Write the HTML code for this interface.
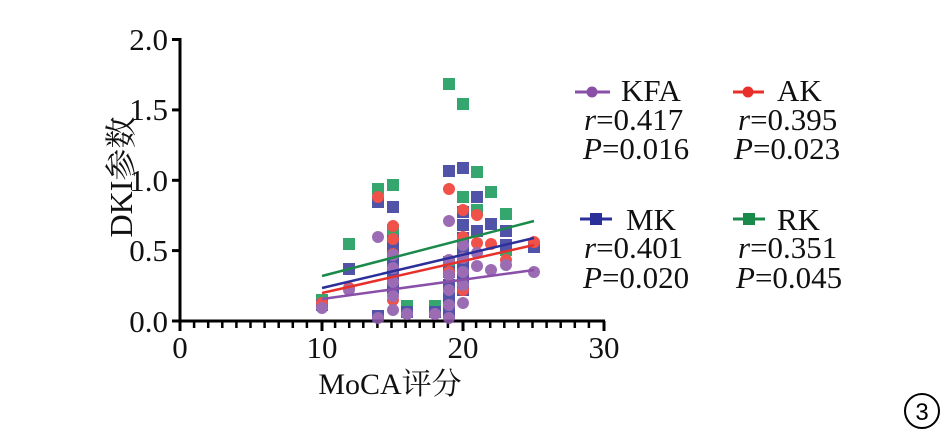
<!DOCTYPE html>
<html><head><meta charset="utf-8"><style>body{margin:0;background:#fff}svg{display:block}</style></head><body>
<svg width="947" height="436" xmlns="http://www.w3.org/2000/svg" font-family="'Liberation Serif','Noto Serif CJK SC',serif">
<g stroke="#000" stroke-width="3" fill="none">
<line x1="180" y1="38" x2="180" y2="331"/>
<line x1="178" y1="321" x2="605" y2="321"/>
<line x1="172" y1="39.5" x2="180" y2="39.5"/>
<line x1="172" y1="109.9" x2="180" y2="109.9"/>
<line x1="172" y1="180.3" x2="180" y2="180.3"/>
<line x1="172" y1="250.6" x2="180" y2="250.6"/>
<line x1="172" y1="321" x2="180" y2="321"/>
<line x1="322" y1="321" x2="322" y2="331"/>
<line x1="463" y1="321" x2="463" y2="331"/>
<line x1="604" y1="321" x2="604" y2="331"/>
</g>
<g stroke="#000" stroke-width="2.5">
<line x1="194.1" y1="321" x2="194.1" y2="328"/><line x1="208.2" y1="321" x2="208.2" y2="328"/><line x1="222.3" y1="321" x2="222.3" y2="328"/><line x1="236.4" y1="321" x2="236.4" y2="328"/><line x1="250.5" y1="321" x2="250.5" y2="328"/><line x1="264.6" y1="321" x2="264.6" y2="328"/><line x1="278.7" y1="321" x2="278.7" y2="328"/><line x1="292.8" y1="321" x2="292.8" y2="328"/><line x1="306.9" y1="321" x2="306.9" y2="328"/>
<line x1="335.1" y1="321" x2="335.1" y2="328"/><line x1="349.2" y1="321" x2="349.2" y2="328"/><line x1="363.3" y1="321" x2="363.3" y2="328"/><line x1="377.4" y1="321" x2="377.4" y2="328"/><line x1="391.5" y1="321" x2="391.5" y2="328"/><line x1="405.6" y1="321" x2="405.6" y2="328"/><line x1="419.7" y1="321" x2="419.7" y2="328"/><line x1="433.8" y1="321" x2="433.8" y2="328"/><line x1="447.9" y1="321" x2="447.9" y2="328"/>
<line x1="476.1" y1="321" x2="476.1" y2="328"/><line x1="490.2" y1="321" x2="490.2" y2="328"/><line x1="504.3" y1="321" x2="504.3" y2="328"/><line x1="518.4" y1="321" x2="518.4" y2="328"/><line x1="532.5" y1="321" x2="532.5" y2="328"/><line x1="546.6" y1="321" x2="546.6" y2="328"/><line x1="560.7" y1="321" x2="560.7" y2="328"/><line x1="574.8" y1="321" x2="574.8" y2="328"/><line x1="588.9" y1="321" x2="588.9" y2="328"/>
</g>
<g font-size="31" fill="#111" text-anchor="end">
<text x="168" y="50">2.0</text><text x="168" y="120">1.5</text><text x="168" y="191">1.0</text><text x="168" y="261">0.5</text><text x="168" y="332">0.0</text>
</g>
<g font-size="31" fill="#111" text-anchor="middle">
<text x="180" y="358">0</text><text x="322" y="358">10</text><text x="463" y="358">20</text><text x="604" y="358">30</text>
<text x="390" y="394" font-size="30">MoCA评分</text>
<text transform="translate(132,177) rotate(-90)" font-size="32">DKI参数</text>
</g>
<g opacity="0.88">
<g fill="#1a9a5a">
<rect x="316" y="294" width="12" height="12"/><rect x="343" y="238" width="12" height="12"/><rect x="372" y="183" width="12" height="12"/><rect x="387" y="179" width="12" height="12"/><rect x="387" y="224" width="12" height="12"/><rect x="401" y="300" width="12" height="12"/><rect x="429" y="300" width="12" height="12"/><rect x="443" y="78" width="12" height="12"/><rect x="457" y="98" width="12" height="12"/><rect x="443" y="256" width="12" height="12"/><rect x="457" y="191" width="12" height="12"/><rect x="457" y="219" width="12" height="12"/><rect x="471" y="166" width="12" height="12"/><rect x="471" y="204" width="12" height="12"/><rect x="485" y="186" width="12" height="12"/><rect x="500" y="208" width="12" height="12"/><rect x="500" y="244" width="12" height="12"/>
</g>
<g fill="#3a3c9e">
<rect x="316" y="299" width="12" height="12"/><rect x="343" y="263" width="12" height="12"/><rect x="372" y="196" width="12" height="12"/><rect x="372" y="310" width="12" height="12"/><rect x="387" y="201" width="12" height="12"/><rect x="387" y="235" width="12" height="12"/><rect x="387" y="244" width="12" height="12"/><rect x="387" y="256" width="12" height="12"/><rect x="387" y="269" width="12" height="12"/><rect x="387" y="282" width="12" height="12"/><rect x="401" y="306" width="12" height="12"/><rect x="429" y="306" width="12" height="12"/><rect x="443" y="165" width="12" height="12"/><rect x="443" y="266" width="12" height="12"/><rect x="443" y="279" width="12" height="12"/><rect x="443" y="292" width="12" height="12"/><rect x="443" y="306" width="12" height="12"/><rect x="457" y="162" width="12" height="12"/><rect x="457" y="206" width="12" height="12"/><rect x="457" y="219" width="12" height="12"/><rect x="457" y="232" width="12" height="12"/><rect x="457" y="246" width="12" height="12"/><rect x="457" y="259" width="12" height="12"/><rect x="457" y="272" width="12" height="12"/><rect x="457" y="284" width="12" height="12"/><rect x="471" y="191" width="12" height="12"/><rect x="471" y="225" width="12" height="12"/><rect x="485" y="218" width="12" height="12"/><rect x="500" y="225" width="12" height="12"/><rect x="500" y="239" width="12" height="12"/><rect x="528" y="241" width="12" height="12"/>
</g>
<g fill="#ee3a30">
<circle cx="322" cy="303" r="6"/><circle cx="349" cy="288" r="6"/><circle cx="378" cy="197" r="6"/><circle cx="393" cy="226" r="6"/><circle cx="393" cy="239" r="6"/><circle cx="393" cy="254" r="6"/><circle cx="393" cy="300" r="6"/><circle cx="449" cy="189" r="6"/><circle cx="449" cy="272" r="6"/><circle cx="463" cy="210" r="6"/><circle cx="463" cy="237" r="6"/><circle cx="463" cy="290" r="6"/><circle cx="477" cy="215" r="6"/><circle cx="477" cy="243" r="6"/><circle cx="491" cy="244" r="6"/><circle cx="506" cy="260" r="6"/><circle cx="534" cy="242" r="6"/>
</g>
<g fill="#8e58aa">
<circle cx="322" cy="308" r="6"/><circle cx="349" cy="290" r="6"/><circle cx="378" cy="237" r="6"/><circle cx="378" cy="318" r="6"/><circle cx="393" cy="255" r="6"/><circle cx="393" cy="268" r="6"/><circle cx="393" cy="282" r="6"/><circle cx="393" cy="296" r="6"/><circle cx="393" cy="310" r="6"/><circle cx="407" cy="314" r="6"/><circle cx="435" cy="314" r="6"/><circle cx="449" cy="221" r="6"/><circle cx="449" cy="260" r="6"/><circle cx="449" cy="275" r="6"/><circle cx="449" cy="290" r="6"/><circle cx="449" cy="305" r="6"/><circle cx="449" cy="318" r="6"/><circle cx="463" cy="303" r="6"/><circle cx="463" cy="245" r="6"/><circle cx="463" cy="258" r="6"/><circle cx="463" cy="272" r="6"/><circle cx="463" cy="285" r="6"/><circle cx="477" cy="253" r="6"/><circle cx="477" cy="266" r="6"/><circle cx="491" cy="270" r="6"/><circle cx="506" cy="265" r="6"/><circle cx="534" cy="272" r="6"/>
</g>
</g>
<g stroke-width="2.5">
<line x1="322" y1="276" x2="534" y2="221" stroke="#1a8a4a"/>
<line x1="322" y1="288" x2="534" y2="238" stroke="#2b2f9a"/>
<line x1="322" y1="293" x2="534" y2="245" stroke="#e8302a"/>
<line x1="322" y1="299" x2="534" y2="270" stroke="#8a4fa8"/>
</g>
<g font-size="31" fill="#111">
<line x1="575" y1="92" x2="610" y2="92" stroke="#8a4fa8" stroke-width="3"/><circle cx="592" cy="92" r="5.5" fill="#8a4fa8"/>
<text x="621" y="101">KFA</text><text x="584" y="130"><tspan font-style="italic">r</tspan>=0.417</text><text x="583" y="159"><tspan font-style="italic">P</tspan>=0.016</text>
<line x1="733" y1="92" x2="764" y2="92" stroke="#e8302a" stroke-width="3"/><circle cx="748" cy="92" r="5.5" fill="#e8302a"/>
<text x="777" y="101">AK</text><text x="738" y="130"><tspan font-style="italic">r</tspan>=0.395</text><text x="734" y="159"><tspan font-style="italic">P</tspan>=0.023</text>
<line x1="580" y1="219" x2="612" y2="219" stroke="#2b2f9a" stroke-width="3"/><rect x="590" y="213" width="12" height="12" fill="#2b2f9a"/>
<text x="626" y="230">MK</text><text x="584" y="258"><tspan font-style="italic">r</tspan>=0.401</text><text x="583" y="288"><tspan font-style="italic">P</tspan>=0.020</text>
<line x1="733" y1="219" x2="765" y2="219" stroke="#1a8a4a" stroke-width="3"/><rect x="743" y="213" width="12" height="12" fill="#1a8a4a"/>
<text x="777" y="230">RK</text><text x="738" y="258"><tspan font-style="italic">r</tspan>=0.351</text><text x="736" y="288"><tspan font-style="italic">P</tspan>=0.045</text>
</g>
<circle cx="922" cy="411" r="17" fill="none" stroke="#000" stroke-width="2"/>
<text x="922" y="420" font-family="'Liberation Sans',sans-serif" font-size="24" text-anchor="middle">3</text>
</svg>
</body></html>
